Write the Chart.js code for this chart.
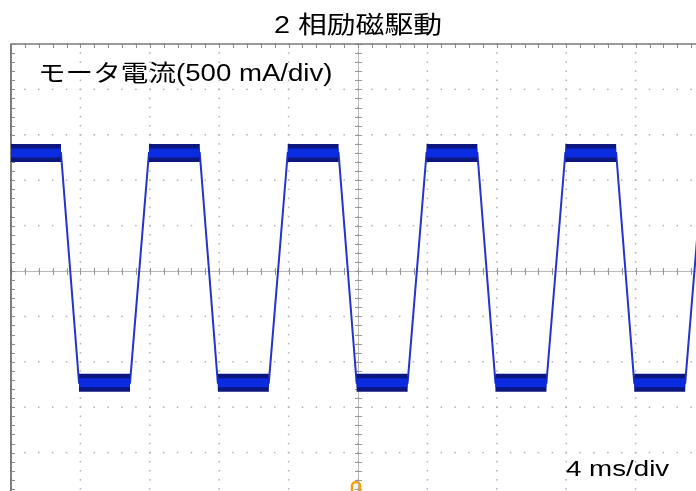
<!DOCTYPE html>
<html>
<head>
<meta charset="utf-8">
<script src="https://cdn.jsdelivr.net/npm/chart.js@4.4.1/dist/chart.umd.min.js"></script>
<style>
  html, body { margin: 0; padding: 0; background: #ffffff; }
  #wrap { position: relative; width: 696px; height: 491px; }
</style>
</head>
<body>
<div id="wrap"><canvas id="scope"></canvas></div>
<script>
// Two-phase excitation drive: motor current waveform (500 mA/div, 4 ms/div)
const titleText = '2 相励磁駆動';
const currentLabel = 'モータ電流(500 mA/div)';
const timeLabel = '4 ms/div';

// Corner points of the current trace: time in ms, current in mA
const cornerTimes = [0, 2.88, 3.92, 6.86, 7.95, 10.88, 11.92, 14.86, 15.95, 18.88, 19.92,
                     22.86, 23.95, 26.88, 27.92, 30.86, 31.95, 34.88, 35.92, 38.86, 39.95];
const cornerCurrents = [1300, 1300, -1230, -1230, 1300, 1300, -1230, -1230, 1300, 1300, -1230,
                        -1230, 1300, 1300, -1230, -1230, 1300, 1300, -1230, -1230, 1300];

// Screen graticule
const msPerDiv = 4;
const mAPerDiv = 500;
const subdivisions = 5;
const triggerTime = 20;

const tracePoints = cornerTimes.map((t, i) => ({ x: t, y: cornerCurrents[i] }));

// Flat (chopping) portions of the trace, separated by gaps
function flatSegments() {
  const pts = [];
  for (let i = 0; i < cornerTimes.length - 1; i++) {
    if (cornerCurrents[i] === cornerCurrents[i + 1]) {
      pts.push({ x: cornerTimes[i], y: cornerCurrents[i] });
      pts.push({ x: cornerTimes[i + 1], y: cornerCurrents[i + 1] });
      pts.push({ x: cornerTimes[i + 1], y: null });
    }
  }
  return pts;
}

const FONT = '"Liberation Sans", "Noto Sans CJK JP", sans-serif';
const STRETCH = 1.2;

const graticule = {
  id: 'graticule',
  beforeDatasetsDraw(chart) {
    const { ctx, chartArea: a, scales: { x, y } } = chart;
    ctx.save();
    const xDivs = [], yDivs = [], xSubs = [], ySubs = [];
    for (let k = 0; k <= 10 * subdivisions; k++) {
      const xv = x.getPixelForValue(k * msPerDiv / subdivisions);
      const yv = y.getPixelForValue(y.max - k * mAPerDiv / subdivisions);
      xSubs.push(xv); ySubs.push(yv);
      if (k % subdivisions === 0) { xDivs.push(xv); yDivs.push(yv); }
    }
    // dotted grid
    ctx.fillStyle = '#b0b0b0';
    for (const yy of yDivs) for (const xx of xSubs) ctx.fillRect(xx - 0.75, yy - 0.75, 1.5, 1.5);
    for (const xx of xDivs) for (const yy of ySubs) ctx.fillRect(xx - 0.75, yy - 0.75, 1.5, 1.5);

    // centre cross with minor ticks
    const cx = x.getPixelForValue(triggerTime);
    const cy = y.getPixelForValue(0);
    ctx.strokeStyle = '#b8b8b8';
    ctx.lineWidth = 1;
    ctx.beginPath();
    ctx.moveTo(a.left, cy + 0.5); ctx.lineTo(a.right, cy + 0.5);
    ctx.moveTo(cx + 0.5, a.top); ctx.lineTo(cx + 0.5, a.bottom);
    ctx.stroke();
    ctx.strokeStyle = '#989898';
    ctx.beginPath();
    for (const xx of xSubs) { ctx.moveTo(Math.round(xx) + 0.5, cy - 3); ctx.lineTo(Math.round(xx) + 0.5, cy + 4); }
    for (const yy of ySubs) { ctx.moveTo(cx - 3, Math.round(yy) + 0.5); ctx.lineTo(cx + 4, Math.round(yy) + 0.5); }
    ctx.stroke();

    // frame (left and top edges) with ticks
    ctx.strokeStyle = '#555555';
    ctx.lineWidth = 1.5;
    ctx.beginPath();
    ctx.moveTo(a.left, a.top); ctx.lineTo(a.left, a.bottom);
    ctx.stroke();
    ctx.strokeStyle = '#7a7a7a';
    ctx.beginPath();
    ctx.moveTo(a.left, a.top); ctx.lineTo(a.right, a.top);
    ctx.stroke();
    ctx.lineWidth = 1;
    ctx.strokeStyle = '#8a8a8a';
    ctx.beginPath();
    for (const yy of ySubs) { ctx.moveTo(a.left, Math.round(yy) + 0.5); ctx.lineTo(a.left + 4, Math.round(yy) + 0.5); }
    for (const xx of xSubs) { ctx.moveTo(Math.round(xx) + 0.5, a.top); ctx.lineTo(Math.round(xx) + 0.5, a.top + 4); }
    ctx.stroke();
    ctx.restore();
  },
  afterDraw(chart) {
    const { ctx, chartArea: a, scales: { x } } = chart;
    ctx.save();
    const drawText = (txt, px, py, size, align, sx) => {
      ctx.save();
      ctx.translate(px, py);
      ctx.scale(sx, 1);
      ctx.font = size + 'px ' + FONT;
      ctx.fillStyle = '#000000';
      ctx.textAlign = align;
      ctx.textBaseline = 'middle';
      ctx.fillText(txt, 0, 0);
      ctx.restore();
    };
    const cx = x.getPixelForValue(triggerTime);
    drawText(titleText, cx, 26, 24, 'center', STRETCH);
    drawText(currentLabel, 38, 75, 23, 'left', STRETCH);
    drawText(timeLabel, 566, 470, 22, 'left', 1.26);

    // trigger position marker
    ctx.strokeStyle = '#f5a10a';
    ctx.lineWidth = 2.5;
    ctx.beginPath();
    ctx.moveTo(cx - 6, a.bottom);
    ctx.lineTo(cx - 6, a.bottom - 5);
    ctx.arc(cx - 2, a.bottom - 5, 4, Math.PI, 0);
    ctx.lineTo(cx + 2, a.bottom);
    ctx.stroke();
    ctx.restore();
  }
};

new Chart(document.getElementById('scope'), {
  type: 'line',
  data: {
    datasets: [
      {
        label: 'chopping core',
        data: flatSegments(),
        borderColor: '#0a2be0',
        borderWidth: 9,
        borderCapStyle: 'butt',
        pointRadius: 0,
        spanGaps: false,
        tension: 0,
        order: 0
      },
      {
        label: 'chopping envelope',
        data: flatSegments(),
        borderColor: '#0b167f',
        borderWidth: 18,
        borderCapStyle: 'butt',
        pointRadius: 0,
        spanGaps: false,
        tension: 0,
        order: 1
      },
      {
        label: 'motor current',
        data: tracePoints,
        borderColor: '#2236c8',
        borderWidth: 2,
        pointRadius: 0,
        tension: 0,
        order: 2
      }
    ]
  },
  options: {
    responsive: true,
    maintainAspectRatio: false,
    animation: false,
    events: [],
    layout: { padding: { left: 11, top: 44, right: 0, bottom: 0 } },
    plugins: { legend: { display: false }, tooltip: { enabled: false } },
    scales: {
      x: { type: 'linear', min: 0, max: 39.48, display: false },
      y: { type: 'linear', min: -2423, max: 2500, display: false }
    }
  },
  plugins: [graticule]
});
</script>
</body>
</html>
